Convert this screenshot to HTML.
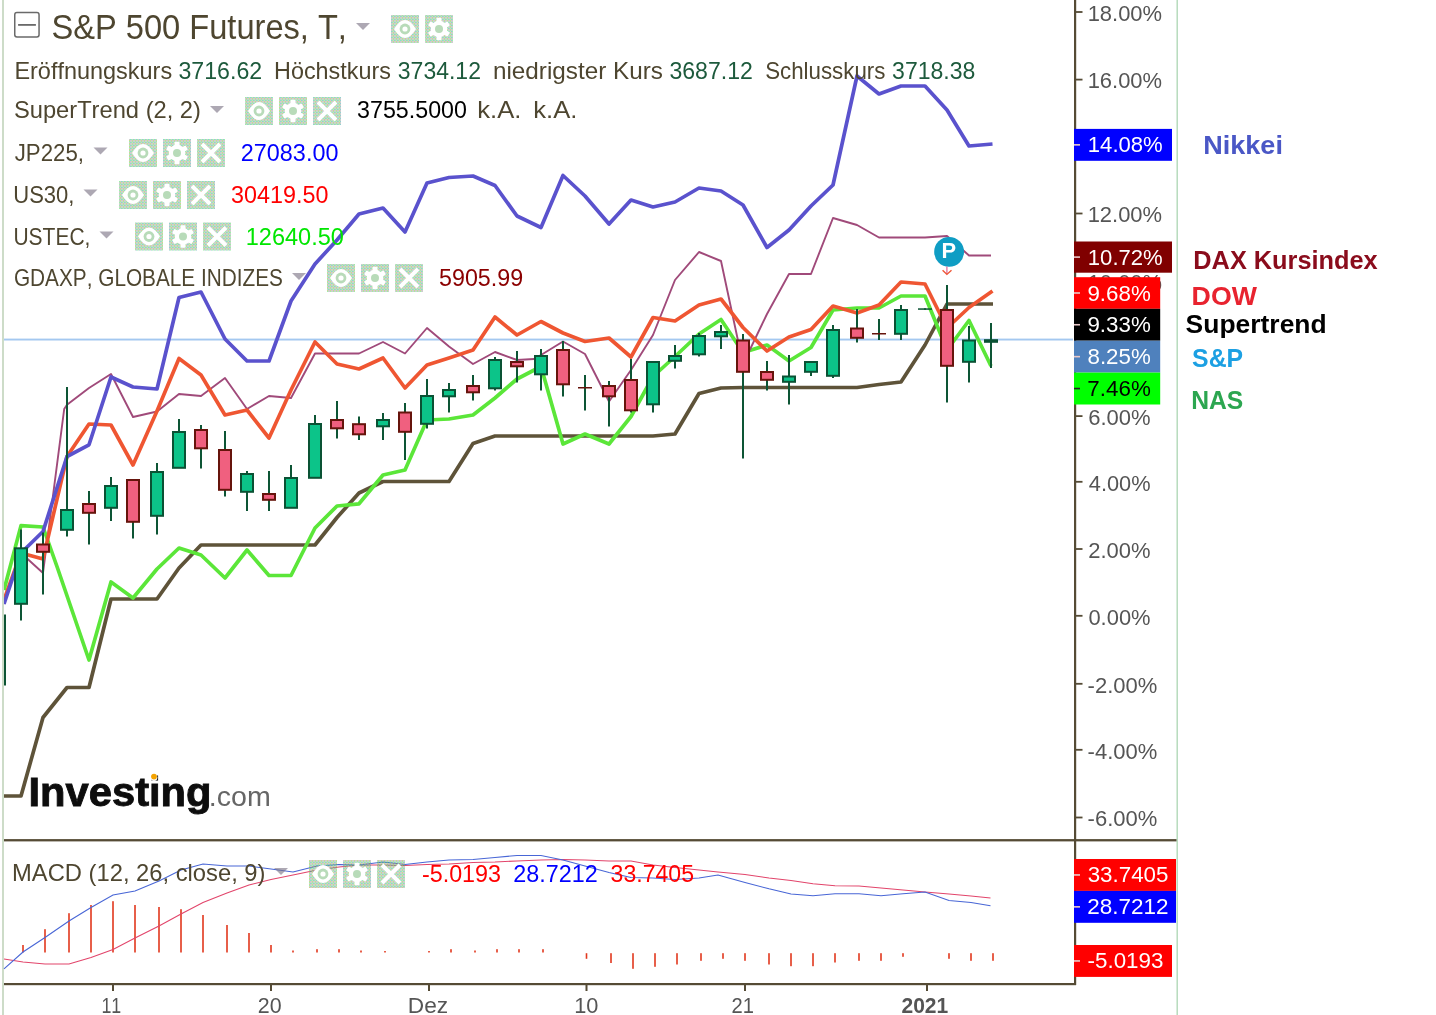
<!DOCTYPE html>
<html lang="de"><head><meta charset="utf-8"><title>S&amp;P 500 Futures</title>
<style>
html,body{margin:0;padding:0;background:#fff;}
body{width:1436px;height:1015px;overflow:hidden;font-family:"Liberation Sans",sans-serif;}
svg{display:block;font-family:"Liberation Sans",sans-serif;font-kerning:none;}
svg{will-change:transform;}
</style></head><body>
<svg width="1436" height="1015" viewBox="0 0 1436 1015">
<defs><pattern id="dz" width="3" height="3" patternUnits="userSpaceOnUse"><rect width="3" height="3" fill="#9b9b9b"/><rect x="0" y="0" width="1" height="1" fill="#31eb4b"/><rect x="2" y="1" width="1" height="1" fill="#31eb4b"/><rect x="1" y="1" width="1" height="1" fill="#21a5a1"/><rect x="0" y="2" width="1" height="1" fill="#a5a521"/></pattern><clipPath id="plot"><rect x="4" y="0" width="1070" height="838"/></clipPath></defs>
<rect x="0" y="0" width="1436" height="1015" fill="#fff"/>
<rect x="2" y="0" width="2" height="1015" fill="#cddcc8"/>
<rect x="1176.5" y="0" width="1.4" height="1015" fill="#b2d9b8"/>
<rect x="4" y="338.6" width="1069" height="1.9" fill="#a4c8f0"/>
<g clip-path="url(#plot)">
<polyline points="4,796 21,796 43,717.5 67,687.5 89,687.5 111,599 157,599 179,568 201,545 315,545 337,517.5 359,493 383,481.5 449,481.5 473,443.5 495,436 653,436 675,434 699,393.5 721,388 743,387.5 857,387.5 879,384.5 901,382 925,345 947,304 993,304" fill="none" stroke="#5e5339" stroke-width="3.7" stroke-linejoin="round"/>
<polyline points="4,590 21,525.6 43,527 57.5,568 89,660 111,582 133,598 157,569 179,548 201,555 225,578 247,550 269,575.5 291,575.5 315,528 337,506 359,503.8 383,475 405,470 427,420 449,419 473,415 495,398 517,379 541,366.5 563,444 585,434 609,444 631,416.5 653,376.5 675,356.5 699,334 721,319.5 743,352.5 767,345 789,361 811,347.5 833,310 857,308 879,308 901,296 925,296 947,350 969,320.5 991,366" fill="none" stroke="#5be639" stroke-width="3.7" stroke-linejoin="round"/>
<polyline points="4,604 21,553 43,573 64.2,409 67,404.7 89,388 111,374 133,417 157,411.5 179,394 201,396 225,378 247,409 269,396 291,398 315,353.5 337,353.5 359,353.5 383,342 405,353.5 427,328 449,346.5 473,364 495,352 517,360 534,359 541,355 563,341.5 585,354 609,401.5 631,370 653,335 675,280 699,252 721,261 743,364 767,314 789,274 811,274 833,218 857,225 879,237.5 925,237.5 947,236 969,255.5 991,255.5" fill="none" stroke="#a04a7a" stroke-width="1.9" stroke-linejoin="round"/>
<polyline points="4,600 21,553 43,559 67,456.5 89,424 111,425 133,465 157,411 179,358.5 201,375 225,415 247,410 269,438 291,390 315,342 337,364 359,369 383,358 405,388 427,365 449,358 473,350 495,317 517,335 541,321.5 563,333 585,341.5 609,338 631,357 653,317.5 675,321 699,305 721,299 743,327.5 767,351 789,337 811,329.5 833,306 857,313 879,305 901,282 925,284 947,328 969,307.5 992.5,291" fill="none" stroke="#ef5632" stroke-width="3.7" stroke-linejoin="round"/>
<polyline points="4,604 21,553 43,531.5 67,456.5 89,444.8 111,377 133,387 157,389 179,297.5 201,292 225,339 247,361 269,361 291,301 315,264 337,240 359,214 383,208 405,232 427,183 449,177.5 473,176 495,185.5 517,216 541,227.5 563,175.5 585,196 609,224 631,200 653,207 675,202 699,188 721,191 743,205 767,247.5 789,230 811,206 833,185 857,76 879,94 901,86 925,86 947,110 969,146 992.5,144" fill="none" stroke="#5a52cd" stroke-width="3.7" stroke-linejoin="round"/>
<rect x="4" y="614.5" width="2" height="71" fill="#0d5535"/>
<rect x="20" y="529.5" width="2" height="91" fill="#0d5535"/>
<rect x="15" y="548.3" width="12" height="55.5" fill="#0cc489" stroke="#0a5234" stroke-width="2"/>
<rect x="42" y="532.5" width="2" height="62" fill="#0d5535"/>
<rect x="37" y="544.5" width="12" height="7.3" fill="#f0607f" stroke="#66140c" stroke-width="2"/>
<rect x="66" y="387" width="2" height="149.5" fill="#0d5535"/>
<rect x="61" y="510" width="12" height="19.8" fill="#0cc489" stroke="#0a5234" stroke-width="2"/>
<rect x="88" y="491" width="2" height="53.5" fill="#0d5535"/>
<rect x="83" y="504" width="12" height="8.8" fill="#f0607f" stroke="#66140c" stroke-width="2"/>
<rect x="110" y="477" width="2" height="44" fill="#0d5535"/>
<rect x="105" y="486" width="12" height="21.8" fill="#0cc489" stroke="#0a5234" stroke-width="2"/>
<rect x="132" y="479" width="2" height="59.5" fill="#0d5535"/>
<rect x="127" y="480" width="12" height="41.8" fill="#f0607f" stroke="#66140c" stroke-width="2"/>
<rect x="156" y="463" width="2" height="71.5" fill="#0d5535"/>
<rect x="151" y="472" width="12" height="43.8" fill="#0cc489" stroke="#0a5234" stroke-width="2"/>
<rect x="178" y="419" width="2" height="49" fill="#0d5535"/>
<rect x="173" y="432" width="12" height="35.8" fill="#0cc489" stroke="#0a5234" stroke-width="2"/>
<rect x="200" y="425" width="2" height="43.5" fill="#0d5535"/>
<rect x="195" y="430" width="12" height="18.3" fill="#f0607f" stroke="#66140c" stroke-width="2"/>
<rect x="224" y="431" width="2" height="65.5" fill="#0d5535"/>
<rect x="219" y="450" width="12" height="39.8" fill="#f0607f" stroke="#66140c" stroke-width="2"/>
<rect x="246" y="471" width="2" height="40" fill="#0d5535"/>
<rect x="241" y="474" width="12" height="17.8" fill="#0cc489" stroke="#0a5234" stroke-width="2"/>
<rect x="268" y="471" width="2" height="40" fill="#0d5535"/>
<rect x="263" y="494" width="12" height="5.8" fill="#f0607f" stroke="#66140c" stroke-width="2"/>
<rect x="290" y="465" width="2" height="43" fill="#0d5535"/>
<rect x="285" y="478" width="12" height="29.8" fill="#0cc489" stroke="#0a5234" stroke-width="2"/>
<rect x="314" y="415" width="2" height="63" fill="#0d5535"/>
<rect x="309" y="424" width="12" height="53.8" fill="#0cc489" stroke="#0a5234" stroke-width="2"/>
<rect x="336" y="401" width="2" height="37.5" fill="#0d5535"/>
<rect x="331" y="420" width="12" height="8.3" fill="#f0607f" stroke="#66140c" stroke-width="2"/>
<rect x="358" y="416.5" width="2" height="23.5" fill="#0d5535"/>
<rect x="353" y="424.2" width="12" height="10.1" fill="#f0607f" stroke="#66140c" stroke-width="2"/>
<rect x="382" y="413" width="2" height="27" fill="#0d5535"/>
<rect x="377" y="420" width="12" height="6.3" fill="#0cc489" stroke="#0a5234" stroke-width="2"/>
<rect x="404" y="403" width="2" height="57" fill="#0d5535"/>
<rect x="399" y="412.5" width="12" height="19.3" fill="#f0607f" stroke="#66140c" stroke-width="2"/>
<rect x="426" y="379" width="2" height="49.5" fill="#0d5535"/>
<rect x="421" y="396" width="12" height="27.8" fill="#0cc489" stroke="#0a5234" stroke-width="2"/>
<rect x="448" y="383" width="2" height="29.5" fill="#0d5535"/>
<rect x="443" y="390" width="12" height="6.3" fill="#0cc489" stroke="#0a5234" stroke-width="2"/>
<rect x="472" y="375" width="2" height="25.5" fill="#0d5535"/>
<rect x="467" y="386" width="12" height="6.3" fill="#f0607f" stroke="#66140c" stroke-width="2"/>
<rect x="494" y="357" width="2" height="33.5" fill="#0d5535"/>
<rect x="489" y="360" width="12" height="28.3" fill="#0cc489" stroke="#0a5234" stroke-width="2"/>
<rect x="516" y="351" width="2" height="31.5" fill="#0d5535"/>
<rect x="511" y="362" width="12" height="4.3" fill="#f0607f" stroke="#66140c" stroke-width="2"/>
<rect x="540" y="349" width="2" height="41.5" fill="#0d5535"/>
<rect x="535" y="356" width="12" height="18.3" fill="#0cc489" stroke="#0a5234" stroke-width="2"/>
<rect x="562" y="341" width="2" height="55.5" fill="#0d5535"/>
<rect x="557" y="350" width="12" height="34.3" fill="#f0607f" stroke="#66140c" stroke-width="2"/>
<rect x="584" y="375" width="2" height="35.5" fill="#0d5535"/>
<rect x="578" y="387" width="14" height="1.5" fill="#66140c"/>
<rect x="608" y="381" width="2" height="45.5" fill="#0d5535"/>
<rect x="603" y="386" width="12" height="10.3" fill="#f0607f" stroke="#66140c" stroke-width="2"/>
<rect x="630" y="359" width="2" height="53.5" fill="#0d5535"/>
<rect x="625" y="380" width="12" height="30.3" fill="#f0607f" stroke="#66140c" stroke-width="2"/>
<rect x="652" y="361" width="2" height="51.5" fill="#0d5535"/>
<rect x="647" y="362" width="12" height="42.3" fill="#0cc489" stroke="#0a5234" stroke-width="2"/>
<rect x="674" y="345" width="2" height="23.5" fill="#0d5535"/>
<rect x="669" y="356" width="12" height="4.8" fill="#0cc489" stroke="#0a5234" stroke-width="2"/>
<rect x="698" y="333" width="2" height="23.5" fill="#0d5535"/>
<rect x="693" y="336" width="12" height="18.3" fill="#0cc489" stroke="#0a5234" stroke-width="2"/>
<rect x="720" y="325" width="2" height="24" fill="#0d5535"/>
<rect x="715" y="332" width="12" height="4.3" fill="#0cc489" stroke="#0a5234" stroke-width="2"/>
<rect x="742" y="334" width="2" height="124.5" fill="#0d5535"/>
<rect x="737" y="340.5" width="12" height="31.3" fill="#f0607f" stroke="#66140c" stroke-width="2"/>
<rect x="766" y="361" width="2" height="29.5" fill="#0d5535"/>
<rect x="761" y="372" width="12" height="7.8" fill="#f0607f" stroke="#66140c" stroke-width="2"/>
<rect x="788" y="355" width="2" height="49.5" fill="#0d5535"/>
<rect x="783" y="376.5" width="12" height="5.3" fill="#0cc489" stroke="#0a5234" stroke-width="2"/>
<rect x="810" y="361" width="2" height="15" fill="#0d5535"/>
<rect x="805" y="362" width="12" height="9.8" fill="#0cc489" stroke="#0a5234" stroke-width="2"/>
<rect x="832" y="325" width="2" height="53" fill="#0d5535"/>
<rect x="827" y="330" width="12" height="45.8" fill="#0cc489" stroke="#0a5234" stroke-width="2"/>
<rect x="856" y="309" width="2" height="33.5" fill="#0d5535"/>
<rect x="851" y="328.5" width="12" height="9.3" fill="#f0607f" stroke="#66140c" stroke-width="2"/>
<rect x="878" y="319" width="2" height="21" fill="#0d5535"/>
<rect x="872" y="333" width="14" height="1.5" fill="#66140c"/>
<rect x="900" y="305" width="2" height="35" fill="#0d5535"/>
<rect x="895" y="310" width="12" height="23.8" fill="#0cc489" stroke="#0a5234" stroke-width="2"/>
<rect x="924" y="308.3" width="2" height="1.5" fill="#0d5535"/>
<rect x="918" y="308.3" width="14" height="1.5" fill="#0a5234"/>
<rect x="946" y="285" width="2" height="117.5" fill="#0d5535"/>
<rect x="941" y="310" width="12" height="55.8" fill="#f0607f" stroke="#66140c" stroke-width="2"/>
<rect x="968" y="326" width="2" height="56.5" fill="#0d5535"/>
<rect x="963" y="340.5" width="12" height="21.3" fill="#0cc489" stroke="#0a5234" stroke-width="2"/>
<rect x="990" y="323" width="2" height="45" fill="#0d5535"/>
<rect x="984" y="339.2" width="14" height="3.6" fill="#0a5234"/>
</g>
<circle cx="949.1" cy="251.9" r="14.9" fill="#0f9dc4"/>
<text x="941.63" y="257.8" font-size="21.80" font-weight="700" fill="#fff" textLength="14.61" lengthAdjust="spacingAndGlyphs">P</text>
<path d="M946.9,266.5 V274" stroke="#e070a0" stroke-width="1.3" fill="none"/>
<path d="M942.6,270.2 L946.9,274.4 L951.5,270.2" stroke="#ee5535" stroke-width="1.4" fill="none"/>
<rect x="22.2" y="945" width="1.6" height="7.5" fill="#e2381f"/>
<rect x="44.2" y="929.2" width="1.6" height="23.3" fill="#e2381f"/>
<rect x="68.2" y="913.2" width="1.6" height="39.3" fill="#e2381f"/>
<rect x="90.2" y="905" width="1.6" height="47.5" fill="#e2381f"/>
<rect x="112.2" y="901.2" width="1.6" height="51.3" fill="#e2381f"/>
<rect x="134.2" y="905" width="1.6" height="47.5" fill="#e2381f"/>
<rect x="158.2" y="907" width="1.6" height="45.5" fill="#e2381f"/>
<rect x="180.2" y="909.2" width="1.6" height="43.3" fill="#e2381f"/>
<rect x="202.2" y="915" width="1.6" height="37.5" fill="#e2381f"/>
<rect x="226.2" y="925" width="1.6" height="27.5" fill="#e2381f"/>
<rect x="248.2" y="933" width="1.6" height="19.5" fill="#e2381f"/>
<rect x="270.2" y="945" width="1.6" height="7.5" fill="#e2381f"/>
<rect x="292.2" y="950.5" width="1.6" height="2" fill="#e2381f"/>
<rect x="316.2" y="949.2" width="1.6" height="3.3" fill="#e2381f"/>
<rect x="338.2" y="949.2" width="1.6" height="3.3" fill="#e2381f"/>
<rect x="360.2" y="950.5" width="1.6" height="2" fill="#e2381f"/>
<rect x="384.2" y="951" width="1.6" height="1.5" fill="#e2381f"/>
<rect x="428.2" y="951" width="1.6" height="1.5" fill="#e2381f"/>
<rect x="450.2" y="949.2" width="1.6" height="3.3" fill="#e2381f"/>
<rect x="474.2" y="950.5" width="1.6" height="2" fill="#e2381f"/>
<rect x="496.2" y="949.2" width="1.6" height="3.3" fill="#e2381f"/>
<rect x="518.2" y="949.2" width="1.6" height="3.3" fill="#e2381f"/>
<rect x="542.2" y="949.2" width="1.6" height="3.3" fill="#e2381f"/>
<rect x="585.7" y="953.2" width="1.6" height="5.6" fill="#e2381f"/>
<rect x="610.2" y="953.2" width="1.6" height="9.8" fill="#e2381f"/>
<rect x="632.2" y="953.2" width="1.6" height="15.6" fill="#e2381f"/>
<rect x="654.2" y="953.2" width="1.6" height="13.6" fill="#e2381f"/>
<rect x="676.2" y="953.2" width="1.6" height="11.3" fill="#e2381f"/>
<rect x="700.2" y="953.2" width="1.6" height="7.6" fill="#e2381f"/>
<rect x="722.2" y="953.2" width="1.6" height="5.6" fill="#e2381f"/>
<rect x="744.2" y="953.2" width="1.6" height="7.6" fill="#e2381f"/>
<rect x="768.2" y="953.2" width="1.6" height="11.3" fill="#e2381f"/>
<rect x="790.2" y="953.2" width="1.6" height="13" fill="#e2381f"/>
<rect x="812.2" y="953.2" width="1.6" height="13" fill="#e2381f"/>
<rect x="834.2" y="953.2" width="1.6" height="9.3" fill="#e2381f"/>
<rect x="858.2" y="953.2" width="1.6" height="7.6" fill="#e2381f"/>
<rect x="880.2" y="953.2" width="1.6" height="7.6" fill="#e2381f"/>
<rect x="902.2" y="953.2" width="1.6" height="3.6" fill="#e2381f"/>
<rect x="948.2" y="953.2" width="1.6" height="5.6" fill="#e2381f"/>
<rect x="970.2" y="953.2" width="1.6" height="7.6" fill="#e2381f"/>
<rect x="992.2" y="953.2" width="1.6" height="7.6" fill="#e2381f"/>
<polyline points="4,959 23,962 45,964 69,964 91,957.5 113,949.5 135,938 159,926 181,914 203,902.5 227,893 249,885 271,879.5 293,875 317,870 339,867 359,865 383,865 405,865.5 427,864.5 449,864 473,862.5 495,862 517,861 541,860 563,859.5 585,860 609,861 631,861 653,865 675,867.5 699,870 718,872 745,874.5 769,878 791,880.5 813,883.8 835,885.8 859,886 881,888 903,890 925,892 949,894 971,896 990.5,898" fill="none" stroke="#e2456b" stroke-width="1.1"/>
<polyline points="4,968.8 23,952 45,937.5 69,921 91,907.5 113,895 135,891 159,881 181,870 203,864 227,866 249,866 271,869 293,872 317,866 339,864.5 359,865 383,862 405,864.5 427,862 449,860 473,859.5 495,857.5 517,855.5 541,855.5 563,860 585,866 609,872.5 631,877.5 653,878 675,879.5 699,878 718,875 745,882.5 769,888.8 791,894 813,895.8 835,893.8 859,893.8 881,895.8 903,893.8 925,892 949,900.5 971,902.5 990.5,905.8" fill="none" stroke="#4866d6" stroke-width="1.1"/>
<rect x="1074" y="0" width="2.2" height="985" fill="#554b35"/>
<rect x="4" y="839.1" width="1172.5" height="2.3" fill="#554b35"/>
<rect x="4" y="983" width="1072" height="2.2" fill="#554b35"/>
<rect x="112" y="985" width="2" height="6" fill="#554b35"/>
<rect x="270" y="985" width="2" height="6" fill="#554b35"/>
<rect x="428" y="985" width="2" height="6" fill="#554b35"/>
<rect x="585.5" y="985" width="2" height="6" fill="#554b35"/>
<rect x="744" y="985" width="2" height="6" fill="#554b35"/>
<rect x="926" y="985" width="2" height="6" fill="#554b35"/>
<rect x="1076" y="11.1" width="6.5" height="1.8" fill="#554b35"/>
<text x="1087.63" y="20.7" font-size="22.09" fill="#555" textLength="74.45" lengthAdjust="spacingAndGlyphs">18.00%</text>
<rect x="1076" y="78.7" width="6.5" height="1.8" fill="#554b35"/>
<text x="1087.63" y="88.3" font-size="22.09" fill="#555" textLength="74.45" lengthAdjust="spacingAndGlyphs">16.00%</text>
<rect x="1076" y="212.6" width="6.5" height="1.8" fill="#554b35"/>
<text x="1087.63" y="222.2" font-size="22.09" fill="#555" textLength="74.45" lengthAdjust="spacingAndGlyphs">12.00%</text>
<rect x="1076" y="280.1" width="6.5" height="1.8" fill="#554b35"/>
<text x="1087.63" y="289.7" font-size="22.09" fill="#555" textLength="74.45" lengthAdjust="spacingAndGlyphs">10.00%</text>
<rect x="1076" y="415.2" width="6.5" height="1.8" fill="#554b35"/>
<text x="1088.18" y="424.8" font-size="22.09" fill="#555" textLength="62.40" lengthAdjust="spacingAndGlyphs">6.00%</text>
<rect x="1076" y="480.9" width="6.5" height="1.8" fill="#554b35"/>
<text x="1088.80" y="490.5" font-size="22.09" fill="#555" textLength="61.78" lengthAdjust="spacingAndGlyphs">4.00%</text>
<rect x="1076" y="548.1" width="6.5" height="1.8" fill="#554b35"/>
<text x="1088.19" y="557.7" font-size="22.09" fill="#555" textLength="62.39" lengthAdjust="spacingAndGlyphs">2.00%</text>
<rect x="1076" y="614.9" width="6.5" height="1.8" fill="#554b35"/>
<text x="1088.44" y="624.5" font-size="22.09" fill="#555" textLength="62.14" lengthAdjust="spacingAndGlyphs">0.00%</text>
<rect x="1076" y="682.9" width="6.5" height="1.8" fill="#554b35"/>
<text x="1087.62" y="692.5" font-size="22.09" fill="#555" textLength="69.76" lengthAdjust="spacingAndGlyphs">-2.00%</text>
<rect x="1076" y="748.9" width="6.5" height="1.8" fill="#554b35"/>
<text x="1087.62" y="758.5" font-size="22.09" fill="#555" textLength="69.76" lengthAdjust="spacingAndGlyphs">-4.00%</text>
<rect x="1076" y="816.6" width="6.5" height="1.8" fill="#554b35"/>
<text x="1087.62" y="826.2" font-size="22.09" fill="#555" textLength="69.76" lengthAdjust="spacingAndGlyphs">-6.00%</text>
<rect x="1074" y="128.9" width="98" height="31.9" fill="#0000ff"/><rect x="1074" y="144.05" width="6" height="1.6" fill="#e8c8c8"/><text x="1087.82" y="152.35" font-size="21.80" fill="#fff" textLength="74.97" lengthAdjust="spacingAndGlyphs">14.08%</text>
<rect x="1074" y="241.5" width="98" height="31.2" fill="#800000"/><rect x="1074" y="256.3" width="6" height="1.6" fill="#e8c8c8"/><text x="1087.82" y="264.6" font-size="21.80" fill="#fff" textLength="74.97" lengthAdjust="spacingAndGlyphs">10.72%</text>
<rect x="1074" y="277.2" width="86.2" height="31.6" fill="#ff0000"/><rect x="1074" y="292.2" width="6" height="1.6" fill="#e8c8c8"/><text x="1087.45" y="300.5" font-size="21.80" fill="#fff" textLength="63.34" lengthAdjust="spacingAndGlyphs">9.68%</text>
<rect x="1074" y="308.8" width="86.2" height="31.9" fill="#000000"/><rect x="1074" y="323.95" width="6" height="1.6" fill="#e8c8c8"/><text x="1087.45" y="332.25" font-size="21.80" fill="#fff" textLength="63.34" lengthAdjust="spacingAndGlyphs">9.33%</text>
<rect x="1074" y="340.7" width="86.2" height="31.9" fill="#4f81bd"/><rect x="1074" y="355.85" width="6" height="1.6" fill="#e8c8c8"/><text x="1087.53" y="364.15" font-size="21.80" fill="#fff" textLength="63.26" lengthAdjust="spacingAndGlyphs">8.25%</text>
<rect x="1074" y="372.6" width="86.2" height="31.9" fill="#00ff00"/><rect x="1074" y="387.75" width="6" height="1.6" fill="#222"/><text x="1087.35" y="396.05" font-size="21.80" fill="#000" textLength="63.44" lengthAdjust="spacingAndGlyphs">7.46%</text>
<rect x="1074" y="859" width="102" height="31.9" fill="#ff0000"/><rect x="1074" y="874.15" width="6" height="1.6" fill="#e8c8c8"/><text x="1087.65" y="882.45" font-size="21.80" fill="#fff" textLength="80.79" lengthAdjust="spacingAndGlyphs">33.7405</text>
<rect x="1074" y="890.9" width="102" height="31.9" fill="#0000ff"/><rect x="1074" y="906.05" width="6" height="1.6" fill="#e8c8c8"/><text x="1087.37" y="914.35" font-size="21.80" fill="#fff" textLength="81.26" lengthAdjust="spacingAndGlyphs">28.7212</text>
<rect x="1074" y="945" width="98" height="31.9" fill="#ff0000"/><rect x="1074" y="960.15" width="6" height="1.6" fill="#e8c8c8"/><text x="1087.50" y="968.45" font-size="21.80" fill="#fff" textLength="75.98" lengthAdjust="spacingAndGlyphs">-5.0193</text>
<text x="1203.19" y="154.3" font-size="26.16" font-weight="700" fill="#4a57c6" textLength="79.73" lengthAdjust="spacingAndGlyphs">Nikkei</text>
<text x="1193.31" y="268.6" font-size="26.16" font-weight="700" fill="#8a0c1c" textLength="184.38" lengthAdjust="spacingAndGlyphs">DAX Kursindex</text>
<text x="1191.61" y="305" font-size="26.16" font-weight="700" fill="#e8232f" textLength="65.31" lengthAdjust="spacingAndGlyphs">DOW</text>
<text x="1185.64" y="332.8" font-size="25.44" font-weight="700" fill="#000" textLength="141.00" lengthAdjust="spacingAndGlyphs">Supertrend</text>
<text x="1192.08" y="367" font-size="26.16" font-weight="700" fill="#1ca0e3" textLength="51.06" lengthAdjust="spacingAndGlyphs">S&amp;P</text>
<text x="1191.15" y="409.4" font-size="25.58" font-weight="700" fill="#2ca650" textLength="52.12" lengthAdjust="spacingAndGlyphs">NAS</text>
<rect x="14.75" y="12.55" width="24.3" height="24.5" rx="2.2" fill="#fff" stroke="#6a6a6a" stroke-width="1.5"/>
<rect x="18.1" y="24" width="17.8" height="1.8" fill="#6a6a6a"/>
<text x="51.52" y="39.4" font-size="34.30" fill="#4e4630" textLength="295.41" lengthAdjust="spacingAndGlyphs">S&amp;P 500 Futures, T,</text>
<path d="M356,23 h14 l-7,7z" fill="#7a7284" fill-opacity="0.62"/>
<rect x="391" y="15" width="28" height="28" fill="url(#dz)" fill-opacity="0.5"/><path d="M394,29 Q405,11 416,29 Q405,47 394,29Z" fill="#fff"/><circle cx="405" cy="29" r="5.4" fill="#b8dbb9"/><circle cx="405" cy="29" r="2.6" fill="#fff"/><rect x="425" y="15" width="28" height="28" fill="url(#dz)" fill-opacity="0.5"/><rect x="436.5" y="17.8" width="5" height="22.4" rx="0.8" fill="#fff" transform="rotate(0 439 29)"/><rect x="436.5" y="17.8" width="5" height="22.4" rx="0.8" fill="#fff" transform="rotate(60 439 29)"/><rect x="436.5" y="17.8" width="5" height="22.4" rx="0.8" fill="#fff" transform="rotate(120 439 29)"/><circle cx="439" cy="29" r="8.3" fill="#fff"/><circle cx="439" cy="29" r="4" fill="#b8dbb9"/>
<text x="14.38" y="79" font-size="24.13" fill="#4e4630" textLength="157.77" lengthAdjust="spacingAndGlyphs">Eröffnungskurs</text>
<text x="178.42" y="79" font-size="24.13" fill="#1d5a3c" textLength="83.75" lengthAdjust="spacingAndGlyphs">3716.62</text>
<text x="274.08" y="79" font-size="24.13" fill="#4e4630" textLength="116.76" lengthAdjust="spacingAndGlyphs">Höchstkurs</text>
<text x="397.82" y="79" font-size="24.13" fill="#1d5a3c" textLength="83.13" lengthAdjust="spacingAndGlyphs">3734.12</text>
<text x="492.99" y="79" font-size="24.13" fill="#4e4630" textLength="169.89" lengthAdjust="spacingAndGlyphs">niedrigster Kurs</text>
<text x="669.42" y="79" font-size="24.13" fill="#1d5a3c" textLength="83.44" lengthAdjust="spacingAndGlyphs">3687.12</text>
<text x="765.19" y="79" font-size="24.13" fill="#4e4630" textLength="120.22" lengthAdjust="spacingAndGlyphs">Schlusskurs</text>
<text x="892.12" y="79" font-size="24.13" fill="#1d5a3c" textLength="83.28" lengthAdjust="spacingAndGlyphs">3718.38</text>
<text x="13.92" y="118" font-size="24.13" fill="#4e4630" textLength="187.05" lengthAdjust="spacingAndGlyphs">SuperTrend (2, 2)</text>
<path d="M210,106 h14 l-7,7z" fill="#7a7284" fill-opacity="0.62"/>
<rect x="245" y="97" width="28" height="28" fill="url(#dz)" fill-opacity="0.5"/><path d="M248,111 Q259,93 270,111 Q259,129 248,111Z" fill="#fff"/><circle cx="259" cy="111" r="5.4" fill="#b8dbb9"/><circle cx="259" cy="111" r="2.6" fill="#fff"/><rect x="279" y="97" width="28" height="28" fill="url(#dz)" fill-opacity="0.5"/><rect x="290.5" y="99.8" width="5" height="22.4" rx="0.8" fill="#fff" transform="rotate(0 293 111)"/><rect x="290.5" y="99.8" width="5" height="22.4" rx="0.8" fill="#fff" transform="rotate(60 293 111)"/><rect x="290.5" y="99.8" width="5" height="22.4" rx="0.8" fill="#fff" transform="rotate(120 293 111)"/><circle cx="293" cy="111" r="8.3" fill="#fff"/><circle cx="293" cy="111" r="4" fill="#b8dbb9"/><rect x="313" y="97" width="28" height="28" fill="url(#dz)" fill-opacity="0.5"/><path d="M318,102 L336,120 M336,102 L318,120" stroke="#fff" stroke-width="4" fill="none"/>
<text x="357.12" y="118" font-size="24.13" fill="#000" textLength="109.79" lengthAdjust="spacingAndGlyphs">3755.5000</text>
<text x="477.28" y="118" font-size="24.13" fill="#4e4630" textLength="44.06" lengthAdjust="spacingAndGlyphs">k.A.</text>
<text x="533.28" y="118" font-size="24.13" fill="#4e4630" textLength="44.06" lengthAdjust="spacingAndGlyphs">k.A.</text>
<text x="14.65" y="161" font-size="24.13" fill="#4e4630" textLength="69.35" lengthAdjust="spacingAndGlyphs">JP225,</text>
<path d="M93.5,147.5 h14 l-7,7z" fill="#7a7284" fill-opacity="0.62"/>
<rect x="129" y="139" width="28" height="28" fill="url(#dz)" fill-opacity="0.5"/><path d="M132,153 Q143,135 154,153 Q143,171 132,153Z" fill="#fff"/><circle cx="143" cy="153" r="5.4" fill="#b8dbb9"/><circle cx="143" cy="153" r="2.6" fill="#fff"/><rect x="163" y="139" width="28" height="28" fill="url(#dz)" fill-opacity="0.5"/><rect x="174.5" y="141.8" width="5" height="22.4" rx="0.8" fill="#fff" transform="rotate(0 177 153)"/><rect x="174.5" y="141.8" width="5" height="22.4" rx="0.8" fill="#fff" transform="rotate(60 177 153)"/><rect x="174.5" y="141.8" width="5" height="22.4" rx="0.8" fill="#fff" transform="rotate(120 177 153)"/><circle cx="177" cy="153" r="8.3" fill="#fff"/><circle cx="177" cy="153" r="4" fill="#b8dbb9"/><rect x="197" y="139" width="28" height="28" fill="url(#dz)" fill-opacity="0.5"/><path d="M202,144 L220,162 M220,144 L202,162" stroke="#fff" stroke-width="4" fill="none"/>
<text x="240.82" y="161" font-size="24.13" fill="#0000ff" textLength="97.59" lengthAdjust="spacingAndGlyphs">27083.00</text>
<text x="13.30" y="203.3" font-size="24.13" fill="#4e4630" textLength="61.18" lengthAdjust="spacingAndGlyphs">US30,</text>
<path d="M83.5,189.5 h14 l-7,7z" fill="#7a7284" fill-opacity="0.62"/>
<rect x="119" y="181" width="28" height="28" fill="url(#dz)" fill-opacity="0.5"/><path d="M122,195 Q133,177 144,195 Q133,213 122,195Z" fill="#fff"/><circle cx="133" cy="195" r="5.4" fill="#b8dbb9"/><circle cx="133" cy="195" r="2.6" fill="#fff"/><rect x="153" y="181" width="28" height="28" fill="url(#dz)" fill-opacity="0.5"/><rect x="164.5" y="183.8" width="5" height="22.4" rx="0.8" fill="#fff" transform="rotate(0 167 195)"/><rect x="164.5" y="183.8" width="5" height="22.4" rx="0.8" fill="#fff" transform="rotate(60 167 195)"/><rect x="164.5" y="183.8" width="5" height="22.4" rx="0.8" fill="#fff" transform="rotate(120 167 195)"/><circle cx="167" cy="195" r="8.3" fill="#fff"/><circle cx="167" cy="195" r="4" fill="#b8dbb9"/><rect x="187" y="181" width="28" height="28" fill="url(#dz)" fill-opacity="0.5"/><path d="M192,186 L210,204 M210,186 L192,204" stroke="#fff" stroke-width="4" fill="none"/>
<text x="231.11" y="203.3" font-size="24.13" fill="#ff0000" textLength="97.30" lengthAdjust="spacingAndGlyphs">30419.50</text>
<text x="13.38" y="245.4" font-size="24.13" fill="#4e4630" textLength="77.01" lengthAdjust="spacingAndGlyphs">USTEC,</text>
<path d="M99.5,231.5 h14 l-7,7z" fill="#7a7284" fill-opacity="0.62"/>
<rect x="135" y="222.5" width="28" height="28" fill="url(#dz)" fill-opacity="0.5"/><path d="M138,236.5 Q149,218.5 160,236.5 Q149,254.5 138,236.5Z" fill="#fff"/><circle cx="149" cy="236.5" r="5.4" fill="#b8dbb9"/><circle cx="149" cy="236.5" r="2.6" fill="#fff"/><rect x="169" y="222.5" width="28" height="28" fill="url(#dz)" fill-opacity="0.5"/><rect x="180.5" y="225.3" width="5" height="22.4" rx="0.8" fill="#fff" transform="rotate(0 183 236.5)"/><rect x="180.5" y="225.3" width="5" height="22.4" rx="0.8" fill="#fff" transform="rotate(60 183 236.5)"/><rect x="180.5" y="225.3" width="5" height="22.4" rx="0.8" fill="#fff" transform="rotate(120 183 236.5)"/><circle cx="183" cy="236.5" r="8.3" fill="#fff"/><circle cx="183" cy="236.5" r="4" fill="#b8dbb9"/><rect x="203" y="222.5" width="28" height="28" fill="url(#dz)" fill-opacity="0.5"/><path d="M208,227.5 L226,245.5 M226,227.5 L208,245.5" stroke="#fff" stroke-width="4" fill="none"/>
<text x="245.71" y="245.4" font-size="24.13" fill="#00e600" textLength="98.21" lengthAdjust="spacingAndGlyphs">12640.50</text>
<text x="13.96" y="286.2" font-size="24.13" fill="#4e4630" textLength="269.00" lengthAdjust="spacingAndGlyphs">GDAXP, GLOBALE INDIZES</text>
<path d="M292,273 h14 l-7,7z" fill="#7a7284" fill-opacity="0.62"/>
<rect x="327" y="264" width="28" height="28" fill="url(#dz)" fill-opacity="0.5"/><path d="M330,278 Q341,260 352,278 Q341,296 330,278Z" fill="#fff"/><circle cx="341" cy="278" r="5.4" fill="#b8dbb9"/><circle cx="341" cy="278" r="2.6" fill="#fff"/><rect x="361" y="264" width="28" height="28" fill="url(#dz)" fill-opacity="0.5"/><rect x="372.5" y="266.8" width="5" height="22.4" rx="0.8" fill="#fff" transform="rotate(0 375 278)"/><rect x="372.5" y="266.8" width="5" height="22.4" rx="0.8" fill="#fff" transform="rotate(60 375 278)"/><rect x="372.5" y="266.8" width="5" height="22.4" rx="0.8" fill="#fff" transform="rotate(120 375 278)"/><circle cx="375" cy="278" r="8.3" fill="#fff"/><circle cx="375" cy="278" r="4" fill="#b8dbb9"/><rect x="395" y="264" width="28" height="28" fill="url(#dz)" fill-opacity="0.5"/><path d="M400,269 L418,287 M418,269 L400,287" stroke="#fff" stroke-width="4" fill="none"/>
<text x="439.07" y="286.2" font-size="24.13" fill="#8b0000" textLength="84.03" lengthAdjust="spacingAndGlyphs">5905.99</text>
<text x="12.05" y="880.5" font-size="23.26" fill="#4e4630" textLength="253.42" lengthAdjust="spacingAndGlyphs">MACD (12, 26, close, 9)</text>
<path d="M274,868 h14 l-7,7z" fill="#7a7284" fill-opacity="0.62"/>
<rect x="309" y="860" width="28" height="28" fill="url(#dz)" fill-opacity="0.5"/><path d="M312,874 Q323,856 334,874 Q323,892 312,874Z" fill="#fff"/><circle cx="323" cy="874" r="5.4" fill="#b8dbb9"/><circle cx="323" cy="874" r="2.6" fill="#fff"/><rect x="343" y="860" width="28" height="28" fill="url(#dz)" fill-opacity="0.5"/><rect x="354.5" y="862.8" width="5" height="22.4" rx="0.8" fill="#fff" transform="rotate(0 357 874)"/><rect x="354.5" y="862.8" width="5" height="22.4" rx="0.8" fill="#fff" transform="rotate(60 357 874)"/><rect x="354.5" y="862.8" width="5" height="22.4" rx="0.8" fill="#fff" transform="rotate(120 357 874)"/><circle cx="357" cy="874" r="8.3" fill="#fff"/><circle cx="357" cy="874" r="4" fill="#b8dbb9"/><rect x="377" y="860" width="28" height="28" fill="url(#dz)" fill-opacity="0.5"/><path d="M382,865 L400,883 M400,865 L382,883" stroke="#fff" stroke-width="4" fill="none"/>
<text x="421.96" y="882" font-size="23.26" fill="#ff0000" textLength="79.06" lengthAdjust="spacingAndGlyphs">-5.0193</text>
<text x="513.33" y="882" font-size="23.26" fill="#0000ff" textLength="84.35" lengthAdjust="spacingAndGlyphs">28.7212</text>
<text x="610.62" y="882" font-size="23.26" fill="#ff0000" textLength="83.35" lengthAdjust="spacingAndGlyphs">33.7405</text>
<text x="101.44" y="1012.6" font-size="22.09" fill="#555" textLength="19.83" lengthAdjust="spacingAndGlyphs">11</text>
<text x="257.82" y="1012.6" font-size="22.09" fill="#555" textLength="23.81" lengthAdjust="spacingAndGlyphs">20</text>
<text x="407.84" y="1012.6" font-size="22.09" fill="#555" textLength="40.39" lengthAdjust="spacingAndGlyphs">Dez</text>
<text x="574.14" y="1012.6" font-size="22.09" fill="#555" textLength="24.21" lengthAdjust="spacingAndGlyphs">10</text>
<text x="731.49" y="1012.6" font-size="22.09" fill="#555" textLength="22.40" lengthAdjust="spacingAndGlyphs">21</text>
<text x="901.47" y="1012.6" font-size="22.09" font-weight="700" fill="#555" textLength="46.71" lengthAdjust="spacingAndGlyphs">2021</text>
<text stroke="#0d0d0d" stroke-width="0.9" x="28.51" y="806" font-size="41.28" font-weight="700" fill="#0d0d0d" textLength="183.08" lengthAdjust="spacingAndGlyphs">Investing</text>
<text x="208.89" y="806" font-size="27.33" fill="#666" textLength="62.00" lengthAdjust="spacingAndGlyphs">.com</text>
<circle cx="154" cy="777.6" r="3.4" fill="#fff"/><circle cx="154" cy="776.6" r="2.9" fill="#f4a300"/>
</svg>
</body></html>
